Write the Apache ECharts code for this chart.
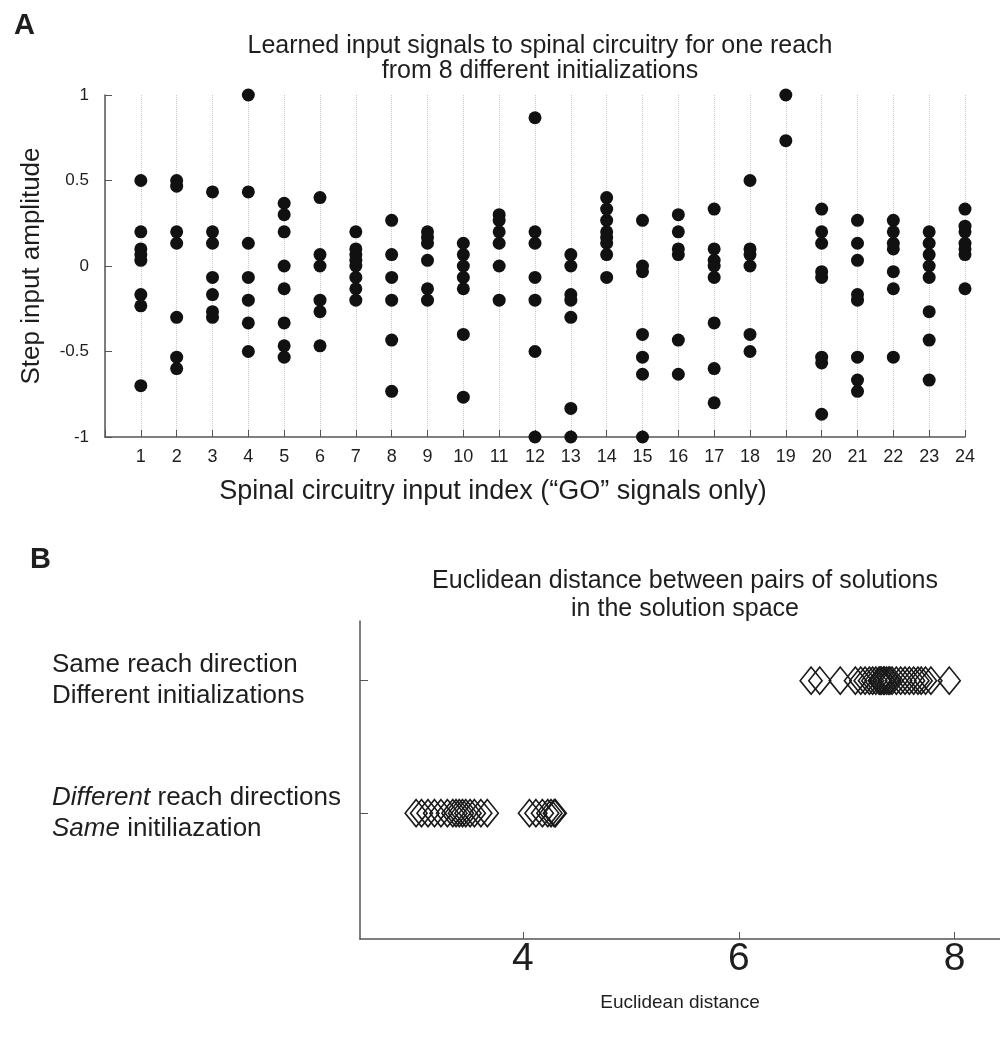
<!DOCTYPE html>
<html>
<head>
<meta charset="utf-8">
<script src="https://cdn.jsdelivr.net/npm/echarts@6/dist/echarts.min.js"></script>
<style>
html, body { margin: 0; padding: 0; background: #fff; }
#chart { width: 1000px; height: 1041px; }
</style>
</head>
<body>
<div id="chart"></div>
<script>
// panel A: step amplitude of each GO input, one dot per initialization
const inputIndex = [1,2,3,4,5,6,7,8,9,10,11,12,13,14,15,16,17,18,19,20,21,22,23,24]
const inputAmplitudes = [
  [0.5, 0.2, 0.1, 0.067, 0.033, -0.167, -0.233, -0.7],
  [0.5, 0.467, 0.2, 0.133, -0.3, -0.533, -0.6],
  [0.433, 0.2, 0.133, -0.067, -0.167, -0.267, -0.3],
  [1.0, 0.433, 0.133, -0.067, -0.2, -0.333, -0.5],
  [0.367, 0.3, 0.2, 0, -0.133, -0.333, -0.467, -0.533],
  [0.4, 0.067, 0, -0.2, -0.267, -0.467],
  [0.2, 0.1, 0.067, 0.033, 0, -0.067, -0.133, -0.2],
  [0.267, 0.067, -0.067, -0.2, -0.433, -0.733],
  [0.2, 0.167, 0.133, 0.033, -0.133, -0.2],
  [0.133, 0.067, 0, -0.067, -0.133, -0.4, -0.767],
  [0.3, 0.267, 0.2, 0.133, 0, -0.2],
  [0.867, 0.2, 0.133, -0.067, -0.2, -0.5, -1.0],
  [0.067, 0, -0.167, -0.2, -0.3, -0.833, -1.0],
  [0.4, 0.333, 0.267, 0.2, 0.167, 0.133, 0.067, -0.067],
  [0.267, 0, -0.033, -0.4, -0.533, -0.633, -1.0],
  [0.3, 0.2, 0.1, 0.067, -0.433, -0.633],
  [0.333, 0.1, 0.033, 0, -0.067, -0.333, -0.6, -0.8],
  [0.5, 0.1, 0.067, 0, -0.4, -0.5],
  [1.0, 0.733],
  [0.333, 0.2, 0.133, -0.033, -0.067, -0.533, -0.567, -0.867],
  [0.267, 0.133, 0.033, -0.167, -0.2, -0.533, -0.667, -0.733],
  [0.267, 0.2, 0.133, 0.1, -0.033, -0.133, -0.533],
  [0.2, 0.133, 0.067, 0, -0.067, -0.267, -0.433, -0.667],
  [0.333, 0.233, 0.2, 0.133, 0.1, 0.067, -0.133]
]

// panel B: euclidean distances between pairs of solutions
const sameReachDist = [6.67, 6.75, 6.94, 7.08, 7.13, 7.17, 7.21, 7.24, 7.27, 7.30, 7.31, 7.32,
  7.34, 7.35, 7.37, 7.39, 7.40, 7.42, 7.46, 7.50, 7.54, 7.58, 7.62, 7.66, 7.69, 7.73, 7.78, 7.95]
const diffReachDist = [3.01, 3.06, 3.12, 3.18, 3.24, 3.30, 3.35, 3.38, 3.41, 3.44, 3.47, 3.51,
  3.55, 3.61, 3.67, 4.06, 4.12, 4.18, 4.23, 4.26, 4.29, 4.30]
const distTicks = [4, 6, 8]
const rowPos = [2, 1]

const font = 'Liberation Sans, Arial, sans-serif'
const ink = '#1e1e1e'
const axisCol = '#555'

const dotsA = []
inputAmplitudes.forEach((vals, i) => {
  vals.forEach(v => dotsA.push([inputIndex[i], v]))
})

const diamond = {
  type: 'scatter', xAxisIndex: 1, yAxisIndex: 1,
  symbol: 'diamond', symbolSize: [22, 27],
  itemStyle: {color: 'rgba(0,0,0,0)', borderColor: '#1a1a1a', borderWidth: 1.6, opacity: 1}
}

const chart = echarts.init(document.getElementById('chart'))
chart.setOption({
  backgroundColor: '#fff',
  animation: false,
  textStyle: {fontFamily: font},
  title: [
    {text: 'A', left: 9, top: 6, textStyle: {fontSize: 29, fontWeight: 'bold', color: ink, fontFamily: font}},
    {text: 'Learned input signals to spinal circuitry for one reach\nfrom 8 different initializations',
      left: 535, top: 29, textAlign: 'center',
      textStyle: {fontSize: 25, fontWeight: 'normal', color: ink, lineHeight: 25, fontFamily: font}},
    {text: 'B', left: 25, top: 540, textStyle: {fontSize: 29, fontWeight: 'bold', color: ink, fontFamily: font}},
    {text: 'Euclidean distance between pairs of solutions\nin the solution space',
      left: 680, top: 562, textAlign: 'center',
      textStyle: {fontSize: 25, fontWeight: 'normal', color: ink, lineHeight: 28, fontFamily: font}}
  ],
  grid: [
    {left: 105, right: 35, top: 95, height: 342},
    {left: 360, right: 0, top: 621, height: 318}
  ],
  xAxis: [
    {
      gridIndex: 0, type: 'value', min: 0, max: 24, interval: 1,
      axisLine: {onZero: false, lineStyle: {color: axisCol, width: 1.5}},
      axisTick: {inside: true, length: 7, lineStyle: {color: axisCol}},
      axisLabel: {fontSize: 18, color: ink, margin: 11, formatter: v => v === 0 ? '' : v},
      splitLine: {show: true, lineStyle: {type: 'dotted', color: '#c8c8c8', width: 1}},
      name: 'Spinal circuitry input index (\u201cGO\u201d signals only)',
      nameLocation: 'middle', nameGap: 41,
      nameTextStyle: {fontSize: 27, color: ink, padding: [0, 84, 0, 0]}
    },
    {
      gridIndex: 1, type: 'value', min: 2.49, max: 8.42,
      axisLine: {onZero: false, lineStyle: {color: axisCol, width: 1.5}},
      axisTick: {inside: true, length: 7, customValues: distTicks, lineStyle: {color: axisCol}},
      axisLabel: {fontSize: 39, color: ink, margin: 1, customValues: distTicks},
      splitLine: {show: false},
      name: 'Euclidean distance', nameLocation: 'middle', nameGap: 54,
      nameTextStyle: {fontSize: 19, color: ink}
    }
  ],
  yAxis: [
    {
      gridIndex: 0, type: 'value', min: -1, max: 1, interval: 0.5,
      axisLine: {show: true, onZero: false, lineStyle: {color: axisCol, width: 1.5}},
      axisTick: {show: true, inside: true, length: 7, lineStyle: {color: axisCol}},
      axisLabel: {fontSize: 17, color: ink, margin: 16},
      splitLine: {show: false},
      name: 'Step input amplitude', nameLocation: 'middle', nameGap: 60, nameRotate: 90,
      nameTextStyle: {fontSize: 26, color: ink}
    },
    {
      gridIndex: 1, type: 'value', min: 0.05, max: 2.45,
      axisLine: {show: true, onZero: false, lineStyle: {color: axisCol, width: 1.5}},
      axisTick: {show: true, inside: true, length: 8, customValues: rowPos, lineStyle: {color: axisCol}},
      axisLabel: {
        customValues: rowPos, align: 'left', margin: 308,
        formatter: v => v === 2
          ? '{n|Same reach direction}\n{n|Different initializations}'
          : '{i|Different}{n| reach directions}\n{i|Same}{n| initiliazation}',
        rich: {
          n: {fontSize: 26, color: ink, lineHeight: 31, fontFamily: font},
          i: {fontSize: 26, color: ink, lineHeight: 31, fontStyle: 'italic', fontFamily: font}
        }
      },
      splitLine: {show: false}
    }
  ],
  series: [
    {
      type: 'scatter', xAxisIndex: 0, yAxisIndex: 0,
      symbol: 'circle', symbolSize: 13,
      itemStyle: {color: '#111', opacity: 1},
      data: dotsA
    },
    Object.assign({data: sameReachDist.map(d => [d, rowPos[0]])}, diamond),
    Object.assign({data: diffReachDist.map(d => [d, rowPos[1]])}, diamond)
  ]
})
</script>
</body>
</html>
